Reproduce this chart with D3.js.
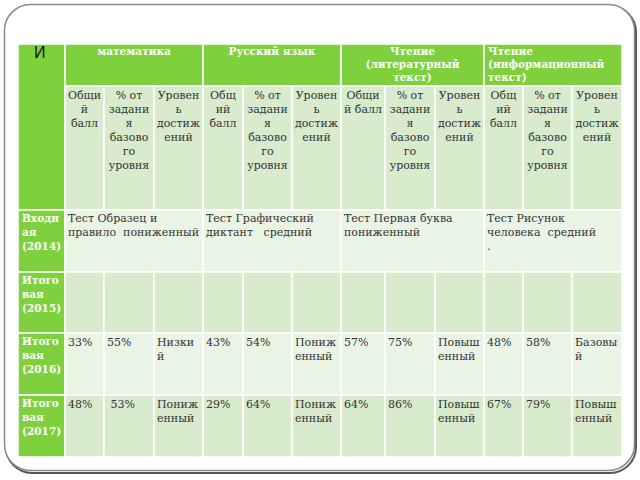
<!DOCTYPE html>
<html><head><meta charset="utf-8">
<script src="https://cdn.jsdelivr.net/npm/d3@7"></script>
<style>body{margin:0;background:#fff}svg{display:block}</style>
</head><body>
<svg id="c" width="640" height="480"></svg>
<script>
// ---- data ----
const cornerLabel = "И";
const subjects = [["математика"], ["Русский язык"], ["Чтение", "(литературный", "текст)"], ["Чтение", "(информационный", "текст)"]];
const subHeaders = [
  [["Общи","й","балл"], ["% от","задани","я","базово","го","уровня"], ["Уровен","ь","достиж","ений"]],
  [["Общ","ий","балл"], ["% от","задани","я","базово","го","уровня"], ["Уровен","ь","достиж","ений"]],
  [["Общи","й балл"], ["% от","задани","я","базово","го","уровня"], ["Уровен","ь","достиж","ений"]],
  [["Общ","ий","балл"], ["% от","задани","я","базово","го","уровня"], ["Уровен","ь","достиж","ений"]]
];
const rowLabels = [["Входн","ая","(2014)"], ["Итого","вая","(2015)"], ["Итого","вая","(2016)"], ["Итого","вая","(2017)"]];
const entryTests = [["Тест Образец и","правило  пониженный"], ["Тест Графический","диктант   средний"], ["Тест Первая буква","пониженный"], ["Тест Рисунок","человека  средний","."]];
const scores2016 = ["33%","43%","57%","48%"];
const basic2016  = ["55%","54%","75%","58%"];
const levels2016 = [["Низки","й"],["Пониж","енный"],["Повыш","енный"],["Базовы","й"]];
const scores2017 = ["48%","29%","64%","67%"];
const basic2017  = [" 53%","64%","86%","79%"];
const levels2017 = [["Пониж","енный"],["Пониж","енный"],["Повыш","енный"],["Повыш","енный"]];

// ---- layout ----
const colEdges = [18,65,104,154,203,243,292,341,385,435,484,523,572,622];
const rowEdges = [44,86,210,272,333,395,457];
const x = d3.scaleOrdinal().domain(d3.range(colEdges.length)).range(colEdges);
const y = d3.scaleOrdinal().domain(d3.range(rowEdges.length)).range(rowEdges);
const GREEN = "#7ed03c", LIGHT = "#d8ebcd", LIGHTER = "#eaf4e5";
const FONT = "DejaVu Serif";
const FS = 11, LH = 14;

const svg = d3.select("#c");

// frame
svg.append("rect").attr("x",6).attr("y",6).attr("width",630).attr("height",467).attr("rx",26)
  .attr("fill","none").attr("stroke","#555").attr("stroke-width",2);
svg.append("rect").attr("x",4.5).attr("y",4.5).attr("width",630).attr("height",466).attr("rx",26)
  .attr("fill","#fff").attr("stroke","#8a8a8a").attr("stroke-width",1.5);

const g = svg.append("g");

function cell(c0, c1, r0, r1, fill){
  g.append("rect").attr("x",x(c0)).attr("y",y(r0)).attr("width",x(c1)-x(c0)).attr("height",y(r1)-y(r0))
    .attr("fill",fill).attr("stroke","#fff").attr("stroke-width",1.5);
}
function lines(sel, arr, x0, y0, opts){
  const t = g.append("text").attr("x",x0).attr("y",y0)
    .attr("font-family",FONT).attr("font-size",opts.size||FS)
    .attr("font-weight",opts.bold?"bold":"normal").attr("fill",opts.fill||"#333")
    .attr("text-anchor",opts.anchor||"start").attr("letter-spacing",opts.ls||0)
    .style("white-space","pre");
  arr.forEach((s,i)=>t.append("tspan").attr("x",x0).attr("y",y0+i*(opts.lh||LH)).text(s));
  return t;
}

// header row 1
cell(0,1,0,2,GREEN);
subjects.forEach((s,i)=>cell(1+3*i,4+3*i,0,1,GREEN));
g.append("text").attr("x",34).attr("y",58).attr("font-family","Liberation Sans").attr("font-size",16)
  .attr("fill","#111").text(cornerLabel);
subjects.forEach((s,i)=>{
  const a = x(1+3*i), b = x(4+3*i);
  if(i===3) lines(g, s, a+4, 55, {bold:true, fill:"#fff", lh:13, size:10.5});
  else lines(g, s, (a+b)/2, 55, {bold:true, fill:"#fff", anchor:"middle", lh:13, size:10.5});
});
// header row 2
subHeaders.forEach((grp,i)=>grp.forEach((h,j)=>{
  const c = 1+3*i+j;
  cell(c,c+1,1,2,LIGHT);
}));
subHeaders.forEach((grp,i)=>grp.forEach((h,j)=>{
  const c = 1+3*i+j;
  lines(g, h, (x(c)+x(c+1))/2, 99, {anchor:"middle"});
}));

// row labels
rowLabels.forEach((r,i)=>cell(0,1,2+i,3+i,GREEN));
rowLabels.forEach((r,i)=>lines(g, r, 22, y(2+i)+12, {bold:true, fill:"#fff", size:10.5}));

// entry row (merged)
entryTests.forEach((t,i)=>cell(1+3*i,4+3*i,2,3,LIGHTER));
entryTests.forEach((t,i)=>lines(g, t, x(1+3*i)+3, y(2)+12, {}));

// 2015 empty row
d3.range(1,13).forEach(c=>cell(c,c+1,3,4,LIGHT));

// 2016 / 2017 rows
function dataRow(r, fill, scores, basic, levels){
  d3.range(1,13).forEach(c=>cell(c,c+1,r,r+1,fill));
  scores.forEach((v,i)=>{
    lines(g,[v], x(1+3*i)+3, y(r)+13, {});
    lines(g,[basic[i]], x(2+3*i)+3, y(r)+13, {});
    lines(g,levels[i], x(3+3*i)+3, y(r)+13, {});
  });
}
dataRow(4, LIGHTER, scores2016, basic2016, levels2016);
dataRow(5, LIGHT, scores2017, basic2017, levels2017);
</script>
</body></html>
